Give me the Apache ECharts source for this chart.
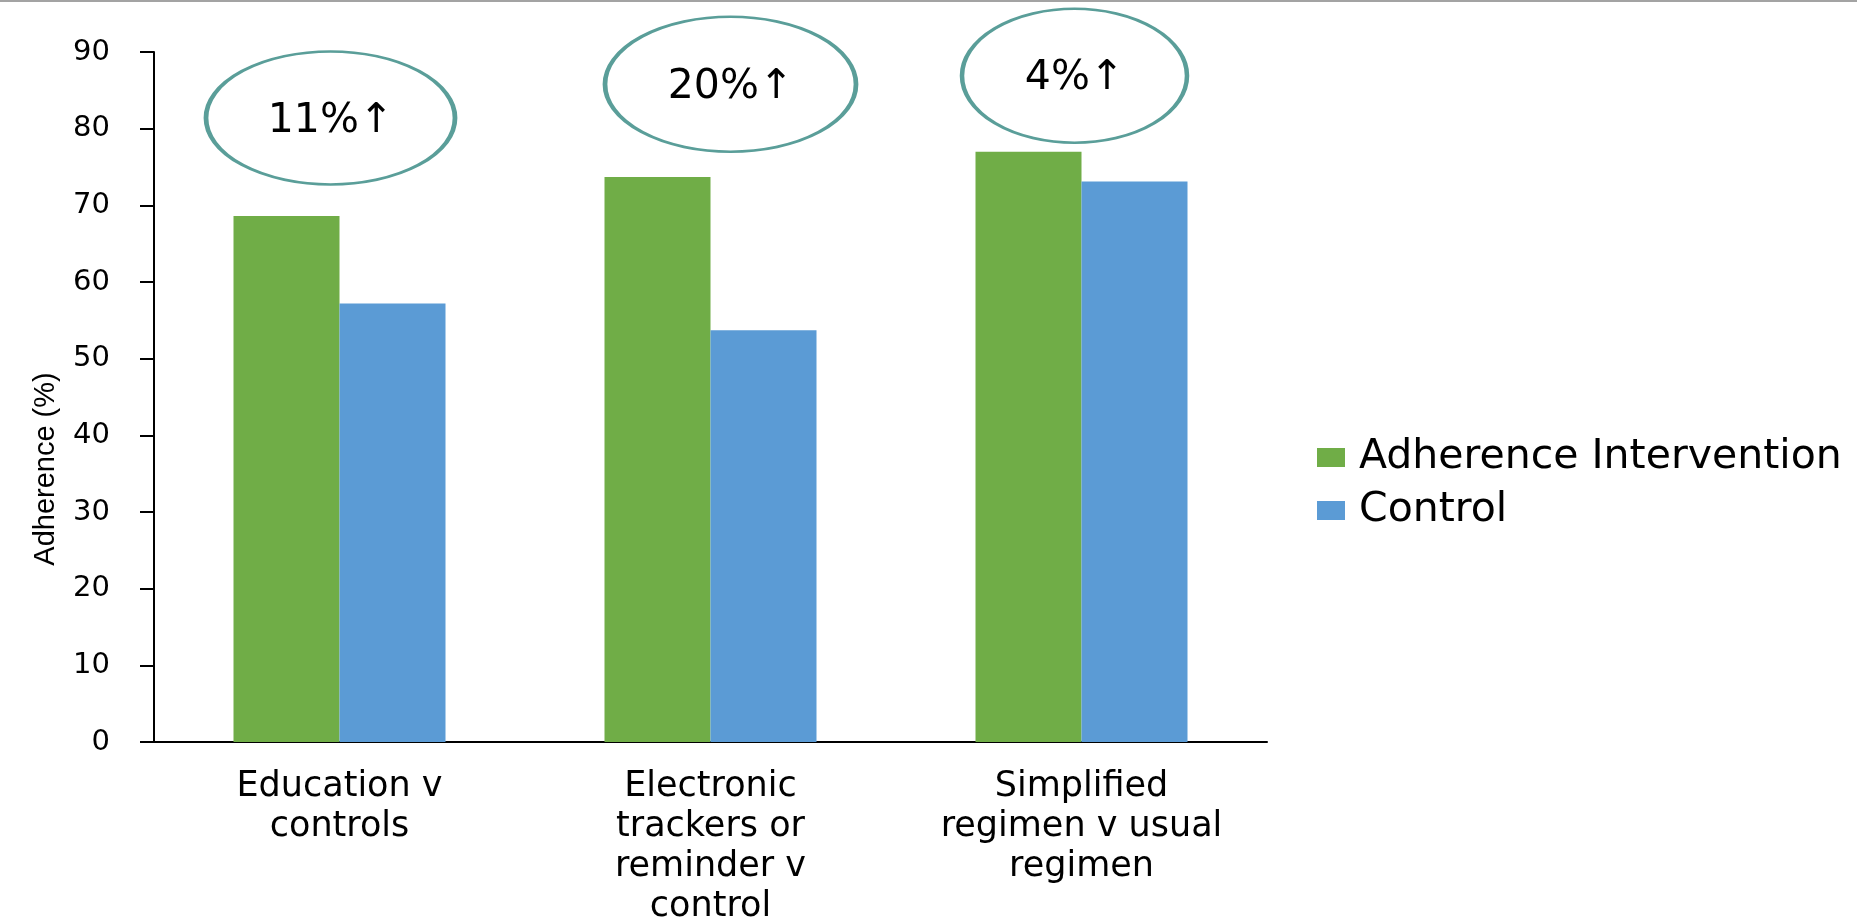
<!DOCTYPE html>
<html>
<head>
<meta charset="utf-8">
<script src="https://cdn.jsdelivr.net/npm/echarts@6/dist/echarts.min.js"></script>
<style>
  html, body { margin: 0; padding: 0; background: #ffffff; }
  #chart { width: 1857px; height: 920px; }
</style>
</head>
<body>
<div id="chart"></div>
<script>
// ---- data ----
const categories = [
  'Education v\ncontrols',
  'Electronic\ntrackers or\nreminder v\ncontrol',
  'Simplified\nregimen v usual\nregimen'
];
const interventionValues = [68.6, 73.7, 77.0];
const controlValues = [57.2, 53.7, 73.1];
const seriesNames = ['Adherence Intervention', 'Control'];
const yTicks = { min: 0, max: 90, interval: 10 };
const improvementLabels = ['11%\u2191', '20%\u2191', '4%\u2191'];
const improvementY = [81.4, 85.8, 86.9];   // annotation ellipse centres (axis units)

// ---- chart ----
const chart = echarts.init(document.getElementById('chart'), null, { renderer: 'canvas' });

const ellipseSizes = [[249, 133], [251, 135], [225, 134]];
const ellipseOffsets = [[-9, 0], [20, 0], [-7, 0]];

const option = {
  animation: false,
  backgroundColor: '#ffffff',
  grid: { left: 154, right: 590, top: 52, bottom: 178, containLabel: false, outerBoundsMode: 'none' },
  legend: {
    data: seriesNames,
    orient: 'vertical',
    left: 1312,
    top: 432,
    itemWidth: 28,
    itemHeight: 19,
    itemGap: 12,
    icon: 'rect',
    selectedMode: false,
    textStyle: { fontFamily: 'DejaVu Sans', fontSize: 41, color: '#000', lineHeight: 40, padding: [0, 0, 0, 9] }
  },
  xAxis: {
    type: 'category',
    data: categories,
    axisLine: { lineStyle: { color: '#000', width: 2 } },
    axisTick: { show: false },
    axisLabel: {
      interval: 0,
      margin: 25,
      color: '#000',
      fontFamily: 'DejaVu Sans',
      fontSize: 35,
      lineHeight: 40,
      align: 'center'
    }
  },
  yAxis: {
    type: 'value',
    min: yTicks.min,
    max: yTicks.max,
    interval: yTicks.interval,
    name: 'Adherence (%)',
    nameLocation: 'middle',
    nameGap: 94,
    nameTextStyle: {
      fontFamily: 'Liberation Sans',
      fontSize: 29,
      color: '#000',
      padding: [0, 144, 0, 0]
    },
    axisLine: { show: true, lineStyle: { color: '#000', width: 2 } },
    axisTick: { show: true, length: 14, lineStyle: { color: '#000', width: 2 } },
    splitLine: { show: false },
    axisLabel: { margin: 44, color: '#000', fontFamily: 'DejaVu Sans', fontSize: 29 }
  },
  series: [
    {
      name: seriesNames[0],
      type: 'bar',
      data: interventionValues,
      barWidth: 106,
      barGap: '0%',
      itemStyle: { color: '#70ad47' },
      emphasis: { disabled: true },
      silent: true
    },
    {
      name: seriesNames[1],
      type: 'bar',
      data: controlValues,
      barWidth: 106,
      barGap: '0%',
      itemStyle: { color: '#5b9bd5' },
      emphasis: { disabled: true },
      silent: true
    },
    {
      name: 'improvement',
      type: 'scatter',
      z: 5,
      silent: true,
      emphasis: { disabled: true },
      data: improvementY.map((v, i) => ({
        value: [i, v],
        symbolSize: ellipseSizes[i],
        symbolOffset: ellipseOffsets[i],
        label: {
          show: true,
          position: 'inside',
          formatter: improvementLabels[i],
          offset: [0, 3],
          color: '#000',
          fontFamily: 'DejaVu Sans',
          fontSize: 41,
          textBorderWidth: 0
        }
      })),
      symbol: 'circle',
      itemStyle: { color: 'rgba(255,255,255,0)', borderColor: '#5a9e99', borderWidth: 3.5, opacity: 1 }
    }
  ],
  graphic: [
    { type: 'rect', shape: { x: 0, y: 0, width: 1857, height: 2 }, style: { fill: '#a3a3a3' }, silent: true }
  ]
};

chart.setOption(option);
</script>
</body>
</html>
